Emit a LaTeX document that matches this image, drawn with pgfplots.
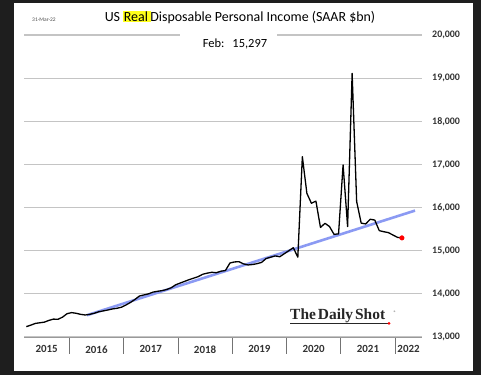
\documentclass[border=0pt]{standalone}
\usepackage{pgfplots}
\pgfplotsset{compat=1.18}
\usepackage{fontspec}
\setmainfont{Carlito}
\newfontfamily\logofont{Liberation Serif}
\definecolor{framecol}{HTML}{1E1E1E}
\definecolor{gridcol}{HTML}{C4C4C4}
\definecolor{trendcol}{HTML}{7F90F2}
\definecolor{hlyellow}{HTML}{FFFF1A}
\begin{document}
\begin{tikzpicture}
\fill[framecol] (0,0) rectangle (481bp,375bp);
\fill[white] (14bp,4.3bp) rectangle (472.7bp,372bp);
\begin{axis}[
  at={(24bp,38bp)}, anchor=south west,
  scale only axis, width=398bp, height=302bp,
  xmin=1.49, xmax=89.44, ymin=13000, ymax=20000,
  axis line style={draw=none},
  xtick pos=bottom, yticklabel pos=right,
  xtick={11.5,23.5,35.5,47.5,59.5,71.5,83.5},
  xticklabels={},
  xtick align=outside,
  xtick style={draw=black!55, line width=0.8bp},
  major tick length=17bp,
  extra x ticks={6.5,17.5,29.5,41.5,53.5,65.5,77.5,86.47},
  extra x tick labels={2015,2016,2017,2018,2019,2020,2021,2022},
  extra x tick style={major tick length=0bp, tick style={draw=none},
     xticklabel style={yshift=-5bp}},
  xticklabel style={font=\fontsize{11}{12}\selectfont\bfseries, text=black!80},
  ytick={13000,14000,...,20000},
  scaled y ticks=false,
  ytick align=inside,
  ytick style={draw=none},
  yticklabel style={font=\fontsize{10}{11}\selectfont\bfseries, text=black!80, anchor=west, inner xsep=0bp, xshift=10bp},
  y tick label style={/pgf/number format/.cd, fixed, 1000 sep={,}, assume math mode=true},
  clip=false,
]
\pgfplotsinvokeforeach{13000,14000,15000,16000,17000,18000,19000,20000}{
  \draw[gridcol, line width=1.1bp] (axis cs:1.49,#1) -- (axis cs:89.44,#1);
}
\draw[black!40, line width=0.9bp] (rel axis cs:0,0) -- (rel axis cs:1,0);
\addplot[trendcol, line width=2.6bp, opacity=0.9] coordinates {(15.4,13505) (87.9,15930)};
\addplot[black, line width=1.3bp, line join=round] coordinates {
(2,13240) (3,13275) (4,13315) (5,13330) (6,13345) (7,13385) (8,13415) (9,13410) (10,13460) (11,13540)
(12,13565) (13,13550) (14,13525) (15,13510) (16,13525) (17,13550) (18,13585) (19,13605) (20,13625) (21,13650) (22,13665) (23,13690)
(24,13740) (25,13800) (26,13870) (27,13950) (28,13975) (29,14000) (30,14040) (31,14060) (32,14075) (33,14100) (34,14140) (35,14210)
(36,14250) (37,14290) (38,14330) (39,14365) (40,14400) (41,14455) (42,14480) (43,14500) (44,14490) (45,14525) (46,14540) (47,14715)
(48,14740) (49,14745) (50,14695) (51,14670) (52,14680) (53,14700) (54,14730) (55,14820) (56,14850) (57,14880) (58,14860) (59,14930)
(60,15000) (61,15070) (62,14850) (63,17180) (64,16330) (65,16100) (66,16150) (67,15540) (68,15635) (69,15560) (70,15380) (71,15390)
(72,16990) (73,15560) (74,19110) (75,16140) (76,15640) (77,15620) (78,15730) (79,15710) (80,15465) (81,15440) (82,15420) (83,15365)
(84,15310) (85,15297)};
\addplot[only marks, mark=*, mark size=2.3bp, red, draw=red] coordinates {(85,15297)};
\end{axis}
% title
\node at (240bp,358bp) {\fontsize{14}{15}\selectfont US {\setlength{\fboxsep}{0.6bp}\colorbox{hlyellow}{Real\,}}\hspace{-0.6bp}Disposable Personal Income (SAAR \$bn)};
\node[text=black!70] at (44bp,355bp) {\fontsize{5.5}{6}\selectfont 31-Mar-22};
\fill[white] (180bp,337bp) rectangle (277bp,343bp);
\node at (235bp,331bp) {\fontsize{12.5}{14}\selectfont Feb:\hspace{8bp}15,297};
% logo
\node[text=black!85, anchor=base west, inner sep=0pt] at (290bp,55.7bp) {\logofont\bfseries\fontsize{15.5}{17}\selectfont The\hspace{2bp}Daily\hspace{2bp}Shot};
\draw[black!85, line width=0.7bp] (290bp,52bp) -- (388bp,52bp);
\fill[red] (389bp,51.7bp) circle (1.5bp);
\node[text=black!70, inner sep=0pt] at (395bp,62bp) {\fontsize{5}{6}\selectfont\textregistered};
\end{tikzpicture}
\end{document}
